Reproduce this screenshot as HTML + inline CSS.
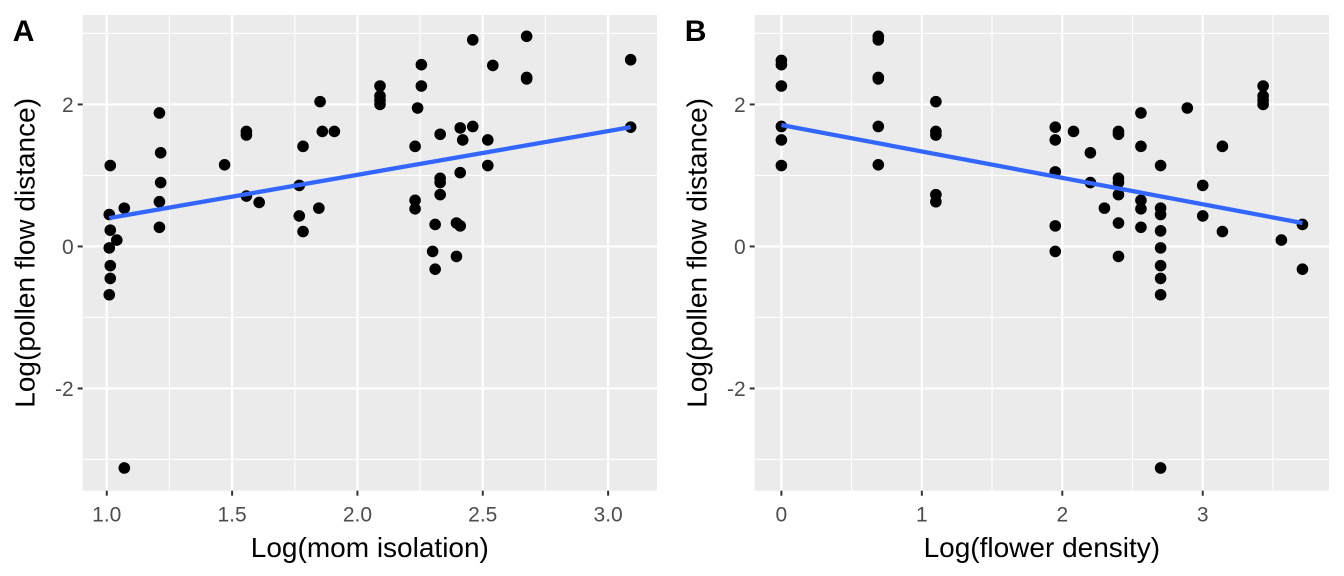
<!DOCTYPE html>
<html><head><meta charset="utf-8">
<style>
html,body{margin:0;padding:0;background:#fff;}
svg{display:block;font-family:"Liberation Sans",Arial,sans-serif;}
</style></head>
<body>
<svg id="chart" width="1344" height="576" viewBox="0 0 1344 576" xmlns="http://www.w3.org/2000/svg"></svg>
<script>
// Panel A data: Log(mom isolation) vs Log(pollen flow distance)
const aX = [1.014,1.01,1.014,1.04,1.01,1.014,1.014,1.01,1.07,1.07,1.21,1.215,1.215,1.21,1.21,1.47,1.557,1.557,1.557,1.608,1.768,1.768,1.783,1.783,1.851,1.846,1.86,1.908,2.09,2.09,2.09,2.09,2.255,2.255,2.24,2.23,2.23,2.23,2.3,2.31,2.31,2.33,2.33,2.33,2.33,2.395,2.41,2.395,2.41,2.42,2.41,2.46,2.46,2.52,2.52,2.54,2.675,2.675,2.675,3.09,3.09];
const aY = [1.14,0.45,0.23,0.09,-0.02,-0.27,-0.45,-0.68,0.54,-3.12,1.88,1.32,0.9,0.63,0.27,1.15,1.62,1.57,0.71,0.62,0.86,0.43,1.41,0.21,2.04,0.54,1.62,1.62,2.26,2.12,2.06,2.0,2.56,2.26,1.95,1.41,0.65,0.53,-0.07,-0.32,0.31,1.58,0.96,0.9,0.73,0.33,0.29,-0.14,1.67,1.5,1.04,2.91,1.69,1.5,1.14,2.55,2.96,2.38,2.36,2.63,1.68];
const aFitX = [1.01, 3.09];
const aFitY = [0.40, 1.68];
const aTicksX = [1.0,1.5,2.0,2.5,3.0];
const aTickLabelsX = ["1.0","1.5","2.0","2.5","3.0"];
// Panel B data: Log(flower density) vs Log(pollen flow distance)
const bX = [0,0,0,0,0,0,0.69,0.69,0.69,0.69,0.69,0.69,1.1,1.1,1.1,1.1,1.1,1.95,1.95,1.95,1.95,1.95,2.08,2.2,2.2,2.3,2.4,2.4,2.4,2.4,2.4,2.4,2.4,2.56,2.56,2.56,2.56,2.56,2.7,2.7,2.7,2.7,2.7,2.7,2.7,2.7,2.7,2.89,3.0,3.0,3.14,3.14,3.43,3.43,3.43,3.43,3.56,3.71,3.71];
const bY = [2.62,2.56,2.26,1.69,1.5,1.14,2.96,2.91,2.38,2.36,1.69,1.15,2.04,1.62,1.57,0.73,0.63,1.68,1.5,1.05,0.29,-0.07,1.62,1.32,0.9,0.54,1.62,1.58,0.96,0.9,0.73,0.33,-0.14,1.88,1.41,0.65,0.53,0.27,1.14,0.54,0.45,0.22,-0.02,-0.27,-0.45,-0.68,-3.12,1.95,0.86,0.43,1.41,0.21,2.26,2.12,2.06,2.0,0.09,0.31,-0.32];
const bFitX = [0, 3.71];
const bFitY = [1.71, 0.33];
const bTicksX = [0,1,2,3];
const bTickLabelsX = ["0","1","2","3"];
const yTicks = [-2,0,2];
const yTickLabels = ["-2","0","2"];

const NS = "http://www.w3.org/2000/svg";
const svg = document.getElementById('chart');
function mk(tag, attrs, parent){const e=document.createElementNS(NS,tag);for(const k in attrs)e.setAttribute(k,attrs[k]);(parent||svg).appendChild(e);return e;}

function panel(cfg){
  const g = mk('g',{});
  
  
  const L=cfg.left,R=cfg.right,T=15,B=490.7;
  const sx=v=>L+(v-cfg.xmin)/(cfg.xmax-cfg.xmin)*(R-L);
  const ymin=-3.44,ymax=3.26;
  const sy=v=>B-(v-ymin)/(ymax-ymin)*(B-T);
  const bg=mk('rect',{x:L,y:T,width:R-L,height:B-T,fill:'#ebebeb'},g);
  
  
  const minorY=[-3,-1,1,3];
  minorY.forEach(v=>{const l=mk('line',{x1:L,x2:R,y1:sy(v),y2:sy(v),stroke:'#fff','stroke-width':1.1},g);});
  for(let i=0;i<cfg.ticks.length-1;i++){const m=(cfg.ticks[i]+cfg.ticks[i+1])/2;const l=mk('line',{x1:sx(m),x2:sx(m),y1:T,y2:B,stroke:'#fff','stroke-width':1.1},g);}
  if(cfg.extraMinor){cfg.extraMinor.forEach(m=>{const l=mk('line',{x1:sx(m),x2:sx(m),y1:T,y2:B,stroke:'#fff','stroke-width':1.1},g);});}
  yTicks.forEach((v,i)=>{
    const l=mk('line',{x1:L,x2:R,y1:sy(v),y2:sy(v),stroke:'#fff','stroke-width':2.2},g);
    
    const t=mk('line',{x1:L-5,x2:L,y1:sy(v),y2:sy(v),stroke:'#333','stroke-width':2},g);
    
    const tx=mk('text',{x:L-9,y:sy(v)+7.5,'text-anchor':'end','font-size':21,fill:'#4d4d4d'},g);
    tx.textContent=yTickLabels[i];
    
  });
  cfg.ticks.forEach((v,i)=>{
    const l=mk('line',{x1:sx(v),x2:sx(v),y1:T,y2:B,stroke:'#fff','stroke-width':2.2},g);
    
    const t=mk('line',{x1:sx(v),x2:sx(v),y1:B,y2:B+5,stroke:'#333','stroke-width':2},g);
    
    const tx=mk('text',{x:sx(v),y:B+31,'text-anchor':'middle','font-size':21,fill:'#4d4d4d'},g);
    tx.textContent=cfg.tickLabels[i];
    
  });
  cfg.xs.forEach((x,i)=>{
    const c=mk('circle',{cx:sx(x),cy:sy(cfg.ys[i]),r:5.8,fill:'#000'},g);
    
  });
  const fl=mk('line',{x1:sx(cfg.fx[0]),y1:sy(cfg.fy[0]),x2:sx(cfg.fx[1]),y2:sy(cfg.fy[1]),stroke:'#3366ff','stroke-width':4.3},g);
  
  const xt=mk('text',{x:(L+R)/2,y:557,'text-anchor':'middle','font-size':28,fill:'#000'},g);
  xt.textContent=cfg.xtitle;
  const yc=(T+B)/2, yx=cfg.left-48;
  const yt=mk('text',{x:yx,y:yc,'text-anchor':'middle','font-size':28,fill:'#000',transform:`rotate(-90 ${yx} ${yc})`},g);
  yt.textContent='Log(pollen flow distance)';
  const lb=mk('text',{x:cfg.left-70,y:41,'font-size':30,'font-weight':'bold',fill:'#000'},g);
  lb.textContent=cfg.label;
}
panel({name:'panel-a',left:82.7,right:657,xmin:0.904,xmax:3.195,ticks:aTicksX,tickLabels:aTickLabelsX,xs:aX,ys:aY,fx:aFitX,fy:aFitY,xtitle:'Log(mom isolation)',label:'A'});
panel({name:'panel-b',left:754.7,right:1329,xmin:-0.19,xmax:3.899,ticks:bTicksX,tickLabels:bTickLabelsX,xs:bX,ys:bY,fx:bFitX,fy:bFitY,xtitle:'Log(flower density)',label:'B',extraMinor:[3.5]});
</script>
</body></html>
